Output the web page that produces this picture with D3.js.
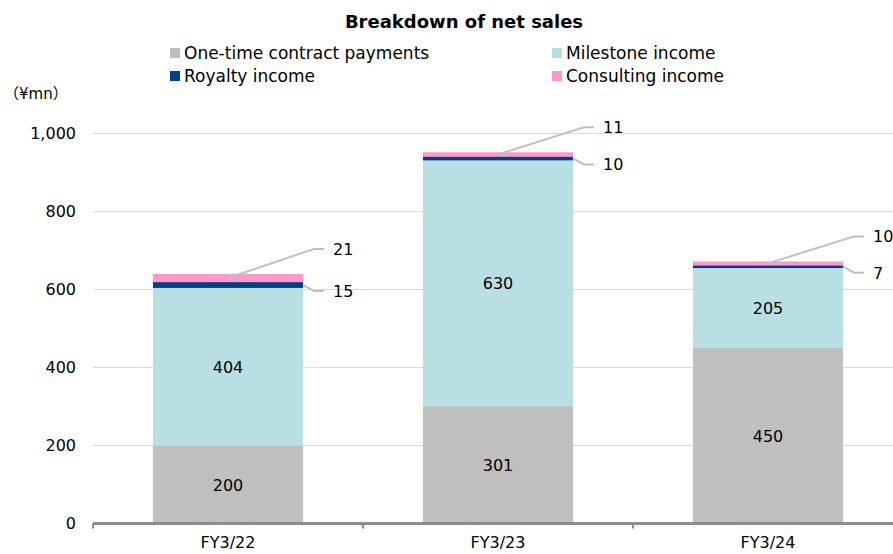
<!DOCTYPE html>
<html>
<head>
<meta charset="utf-8">
<script src="https://cdn.jsdelivr.net/npm/d3@7"></script>
<style>
  body { margin: 0; background: #fff; }
  text { font-family: "DejaVu Sans", "Noto Sans CJK JP", sans-serif; fill: #000; }
</style>
</head>
<body>
<div id="chart"></div>
<script>
// chart data
const years = ["FY3/22", "FY3/23", "FY3/24"];
const oneTime = [200, 301, 450];
const milestone = [404, 630, 205];
const royalty = [15, 10, 7];
const consulting = [21, 11, 10];
const seriesNames = ["One-time contract payments", "Milestone income", "Royalty income", "Consulting income"];
const seriesColors = ["#bfbfbf", "#b8e0e3", "#003f87", "#ff99cc"];
const yTicks = [0, 200, 400, 600, 800, 1000];

const width = 893, height = 554;
const margin = {top: 133, right: 0, bottom: 31, left: 93};

const svg = d3.select("#chart").append("svg")
  .attr("width", width)
  .attr("height", height);

const rows = years.map((y, i) => ({
  year: y, oneTime: oneTime[i], milestone: milestone[i], royalty: royalty[i], consulting: consulting[i]
}));
const keys = ["oneTime", "milestone", "royalty", "consulting"];
const stacked = d3.stack().keys(keys)(rows);

const x = d3.scaleBand()
  .domain(years)
  .range([margin.left, margin.left + 270 * 3])
  .paddingInner(0.444)
  .paddingOuter(0.222);

const y = d3.scaleLinear()
  .domain([0, 1000])
  .range([523.5, 133.5]);

// title
svg.append("text")
  .attr("x", 464).attr("y", 28)
  .attr("text-anchor", "middle")
  .style("font-size", "18px")
  .style("font-weight", "bold")
  .text("Breakdown of net sales");

// legend
const legPos = [[170, 53], [552, 53], [170, 76], [552, 76]];
seriesNames.forEach((name, i) => {
  const g = svg.append("g").attr("transform", `translate(${legPos[i][0]},${legPos[i][1]})`);
  g.append("rect").attr("x", 0).attr("y", -5).attr("width", 10).attr("height", 10).attr("fill", seriesColors[i]);
  g.append("text").attr("x", 14).attr("y", 6).style("font-size", "17px").text(name);
});

// unit
svg.append("text").attr("x", 4).attr("y", 99).style("font-size", "15px").text("（¥mn）");

// gridlines
svg.append("g").selectAll("line")
  .data(yTicks.slice(1))
  .join("line")
  .attr("x1", margin.left).attr("x2", width)
  .attr("y1", d => y(d)).attr("y2", d => y(d))
  .attr("stroke", "#d9d9d9").attr("stroke-width", 1);

// y axis labels
const yAxis = svg.append("g")
  .attr("transform", `translate(${margin.left},0)`)
  .call(d3.axisLeft(y).tickValues(yTicks).tickSize(0).tickPadding(17).tickFormat(d3.format(",")));
yAxis.select(".domain").remove();
yAxis.selectAll("text").style("font-size", "16px").attr("fill", "#000");

// bars
svg.append("g").selectAll("g")
  .data(stacked)
  .join("g")
  .attr("fill", (d, i) => seriesColors[i])
  .selectAll("rect")
  .data(d => d)
  .join("rect")
  .attr("x", d => x(d.data.year))
  .attr("width", x.bandwidth())
  .attr("y", d => y(d[1]))
  .attr("height", d => y(d[0]) - y(d[1]));

// labels inside one-time and milestone
stacked.slice(0, 2).forEach(s => {
  svg.append("g").selectAll("text")
    .data(s)
    .join("text")
    .attr("x", d => x(d.data.year) + x.bandwidth() / 2)
    .attr("y", d => (y(d[0]) + y(d[1])) / 2 + 6)
    .attr("text-anchor", "middle")
    .style("font-size", "16px")
    .text(d => d[1] - d[0]);
});

// callouts for royalty and consulting
const lineColor = "#bfbfbf";
stacked[3].forEach(d => {
  const cx = x(d.data.year) + x.bandwidth() / 2;
  const right = x(d.data.year) + x.bandwidth();
  const top = y(d[1]);
  const ly = top - 25;
  svg.append("polyline")
    .attr("points", `${cx},${(y(d[0]) + top) / 2} ${right + 11},${ly} ${right + 21},${ly}`)
    .attr("fill", "none").attr("stroke", lineColor).attr("stroke-width", 2);
  svg.append("text").attr("x", right + 30).attr("y", ly + 6).style("font-size", "16px").text(d[1] - d[0]);
});
stacked[2].forEach(d => {
  const right = x(d.data.year) + x.bandwidth();
  const mid = (y(d[0]) + y(d[1])) / 2;
  const ly = mid + 6;
  svg.append("polyline")
    .attr("points", `${right},${mid} ${right + 11},${ly} ${right + 21},${ly}`)
    .attr("fill", "none").attr("stroke", lineColor).attr("stroke-width", 2);
  svg.append("text").attr("x", right + 30).attr("y", ly + 6).style("font-size", "16px").text(d[1] - d[0]);
});

// x axis
const xAxis = svg.append("g")
  .attr("transform", `translate(0,${y(0)})`)
  .call(d3.axisBottom(x).tickSize(0).tickPadding(13));
xAxis.select(".domain").remove();
xAxis.selectAll("text").style("font-size", "16px").attr("fill", "#000");
svg.append("line")
  .attr("x1", margin.left).attr("x2", width)
  .attr("y1", y(0)).attr("y2", y(0))
  .attr("stroke", "#8c8c8c").attr("stroke-width", 3);
svg.append("g").selectAll("line")
  .data(d3.range(years.length + 1))
  .join("line")
  .attr("x1", i => margin.left + i * 270).attr("x2", i => margin.left + i * 270)
  .attr("y1", y(0)).attr("y2", y(0) + 5)
  .attr("stroke", "#8c8c8c").attr("stroke-width", 2);
</script>
</body>
</html>
